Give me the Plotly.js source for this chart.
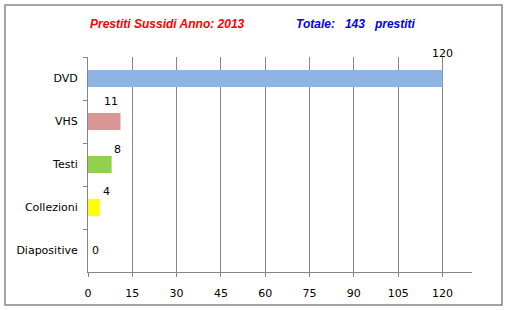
<!DOCTYPE html>
<html><head><meta charset="utf-8">
<script src="https://cdn.plot.ly/plotly-3.0.1.min.js"></script>
<style>html,body{margin:0;padding:0;background:#fff;}#chart{width:508px;height:310px;}</style>
</head><body><div id="chart"></div>
<script>
const categories = ["DVD", "VHS", "Testi", "Collezioni", "Diapositive"];
const values = [120, 11, 8, 4, 0];
const barColors = ["#8EB4E3", "#D99694", "#92D050", "#FFFF00", "#4F81BD"];
const xTicks = [0, 15, 30, 45, 60, 75, 90, 105, 120];
const titleLeft = "Prestiti Sussidi Anno: 2013";
const titleRight = "Totale:   143   prestiti";
// label offsets (pixels) mimicking the hand-placed Excel labels
const labelDx = [0, -9, 6, 7, 7];
const labelDy = [25, 20, 15, 16, 0];

const W = 508, H = 310, L = 88, R = 36, T = 57, B = 38;
const pw = W - L - R, ph = H - T - B;
const px = v => (v - L) / pw;
const py = v => (H - B - v) / ph;

const trace = {
  type: 'bar', orientation: 'h',
  y: categories, x: values,
  marker: {color: barColors, line: {width: 0}},
  width: 0.4, hoverinfo: 'none'
};

const annotations = values.map((v, i) => ({
  x: v, y: categories[i], xref: 'x', yref: 'y',
  text: String(v), showarrow: false,
  xanchor: 'center', yanchor: 'middle',
  xshift: labelDx[i], yshift: labelDy[i],
  font: {family: 'DejaVu Sans', size: 11, color: '#000'}
}));
annotations.push({
  x: px(167), y: py(24), xref: 'paper', yref: 'paper', showarrow: false,
  xanchor: 'center', yanchor: 'middle', text: titleLeft,
  font: {family: 'Liberation Sans', size: 12, color: '#FF0000', weight: 'bold', style: 'italic'}
});
annotations.push({
  x: px(356), y: py(24), xref: 'paper', yref: 'paper', showarrow: false,
  xanchor: 'center', yanchor: 'middle', text: titleRight.replace(/ /g, '&nbsp;'),
  font: {family: 'Liberation Sans', size: 12, color: '#0000FF', weight: 'bold', style: 'italic'}
});

const layout = {
  width: W, height: H,
  margin: {l: L, r: R, t: T, b: B, pad: 0},
  paper_bgcolor: '#fff', plot_bgcolor: '#fff',
  showlegend: false,
  font: {family: 'DejaVu Sans', size: 11, color: '#000'},
  xaxis: {
    range: [0, 130], tickvals: xTicks, ticktext: xTicks.map(String),
    showgrid: true, gridcolor: '#868686', gridwidth: 1,
    zeroline: false, showline: true, linecolor: '#868686', linewidth: 1,
    ticks: 'outside', ticklen: 4, tickcolor: '#868686', ticklabelstandoff: 7,
    tickfont: {family: 'DejaVu Sans', size: 11, color: '#000'}
  },
  yaxis: {
    type: 'category', autorange: 'reversed',
    showgrid: false, zeroline: false, showline: true, linecolor: '#868686', linewidth: 1,
    ticks: 'outside', ticklen: 4, tickcolor: '#868686', tickson: 'boundaries', ticklabelstandoff: 7,
    tickfont: {family: 'DejaVu Sans', size: 11, color: '#000'}
  },
  annotations: annotations,
  shapes: [{
    type: 'rect', xref: 'paper', yref: 'paper',
    x0: px(5), x1: px(502), y0: py(305), y1: py(5),
    line: {color: '#868686', width: 1.5}, fillcolor: 'rgba(0,0,0,0)', layer: 'below'
  }]
};

Plotly.newPlot('chart', [trace], layout, {displayModeBar: false, staticPlot: true});
</script>
</body></html>
